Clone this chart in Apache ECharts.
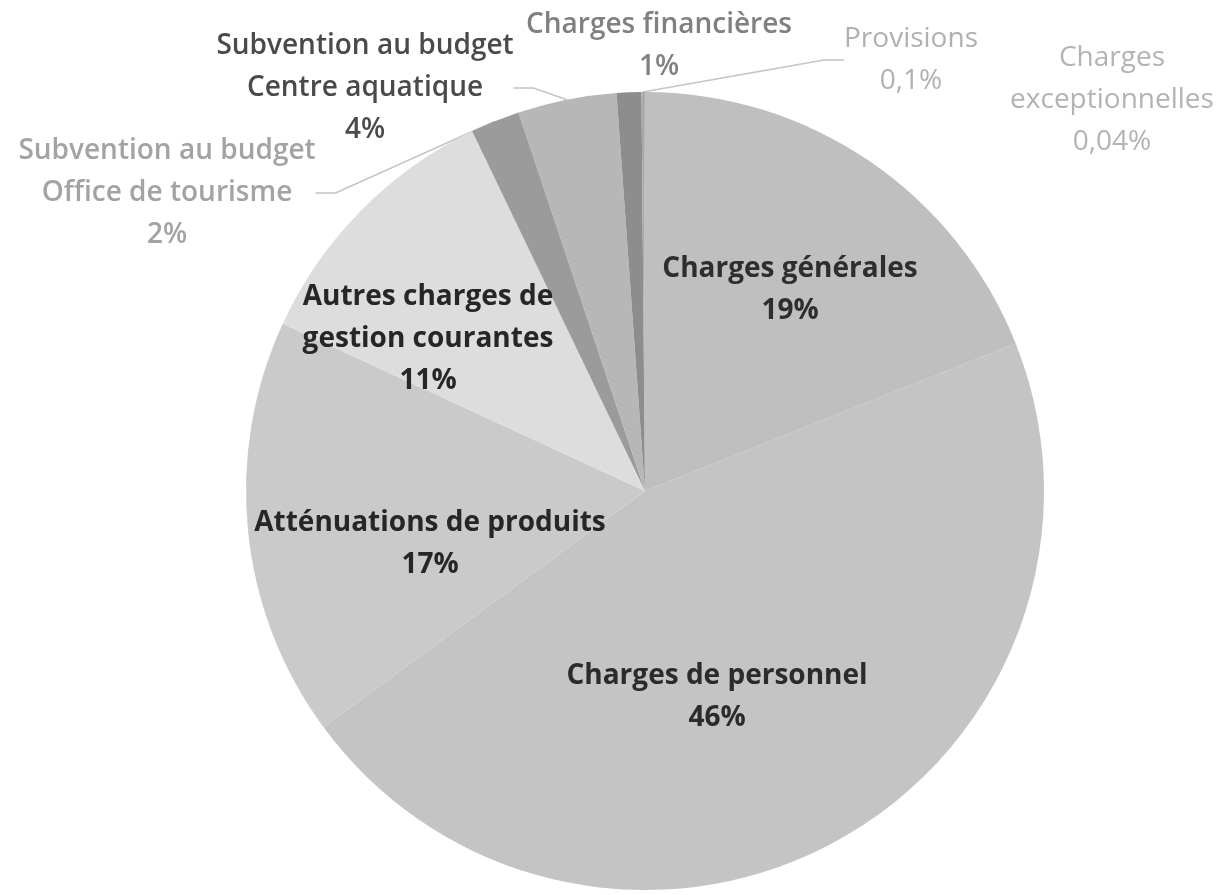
<!DOCTYPE html>
<html>
<head>
<meta charset="utf-8">
<script src="https://cdn.jsdelivr.net/npm/echarts@6/dist/echarts.min.js"></script>
<style>
html,body{margin:0;padding:0;background:#fff;}
#chart{width:1232px;height:895px;}
</style>
</head>
<body>
<div id="chart"></div>
<script>
// ---- data ----
var categories = [
  "Charges générales",
  "Charges de personnel",
  "Atténuations de produits",
  "Autres charges de\ngestion courantes",
  "Subvention au budget\nOffice de tourisme",
  "Subvention au budget\nCentre aquatique",
  "Charges financières",
  "Provisions",
  "Charges\nexceptionnelles"
];
var values = [19, 46, 17, 11, 2, 4, 1, 0.1, 0.04];

// ---- styling (not data) ----
var sliceColors = ["#bfbfbf", "#c4c4c4", "#cacaca", "#dddddd", "#9b9b9b", "#b7b7b7", "#8d8d8d", "#a9a9a9", "#b0b0b0"];
var textColors  = ["#2e2e2e", "#2b2b2b", "#262626", "#262626", "#a3a3a3", "#4a4a4a", "#808080", "#b0b0b0", "#b3b3b3"];
var textWeights = ["bold", "bold", "bold", "bold", "600", "600", "600", "normal", "normal"];
var inside      = [true, true, true, true, false, false, false, false, false];
var showLine    = [false, false, false, false, true, true, false, true, false];
// label block centres (px)
var labelPos = [[790, 290], [717, 697], [430, 544], [428, 339], [167, 193], [365, 88], [659, 46], [911, 60], [1112, 100]];

var dataItems = categories.map(function (c, i) {
  return {
    name: c,
    value: values[i],
    itemStyle: { color: sliceColors[i] },
    label: { color: textColors[i], fontWeight: textWeights[i], position: inside[i] ? 'inside' : 'outside' },
    labelLine: { show: showLine[i] }
  };
});

var chart = echarts.init(document.getElementById('chart'));
chart.setOption({
  backgroundColor: '#ffffff',
  animation: false,
  series: [{
    type: 'pie',
    center: [645, 491],
    radius: 399,
    startAngle: 90,
    clockwise: true,
    avoidLabelOverlap: false,
    itemStyle: { borderWidth: 0 },
    label: {
      show: true,
      fontFamily: 'Open Sans',
      fontSize: 28,
      lineHeight: 42,
      align: 'center',
      formatter: function (p) {
        return p.name + '\n' + String(p.value).replace('.', ',') + '%';
      }
    },
    labelLine: {
      show: true,
      length: 20,
      length2: 20,
      lineStyle: { color: '#c4c4c4', width: 1.5 }
    },
    labelLayout: function (params) {
      var p = labelPos[params.dataIndex];
      return { x: p[0], y: p[1], align: 'center', verticalAlign: 'middle' };
    },
    data: dataItems
  }]
});
</script>
</body>
</html>
